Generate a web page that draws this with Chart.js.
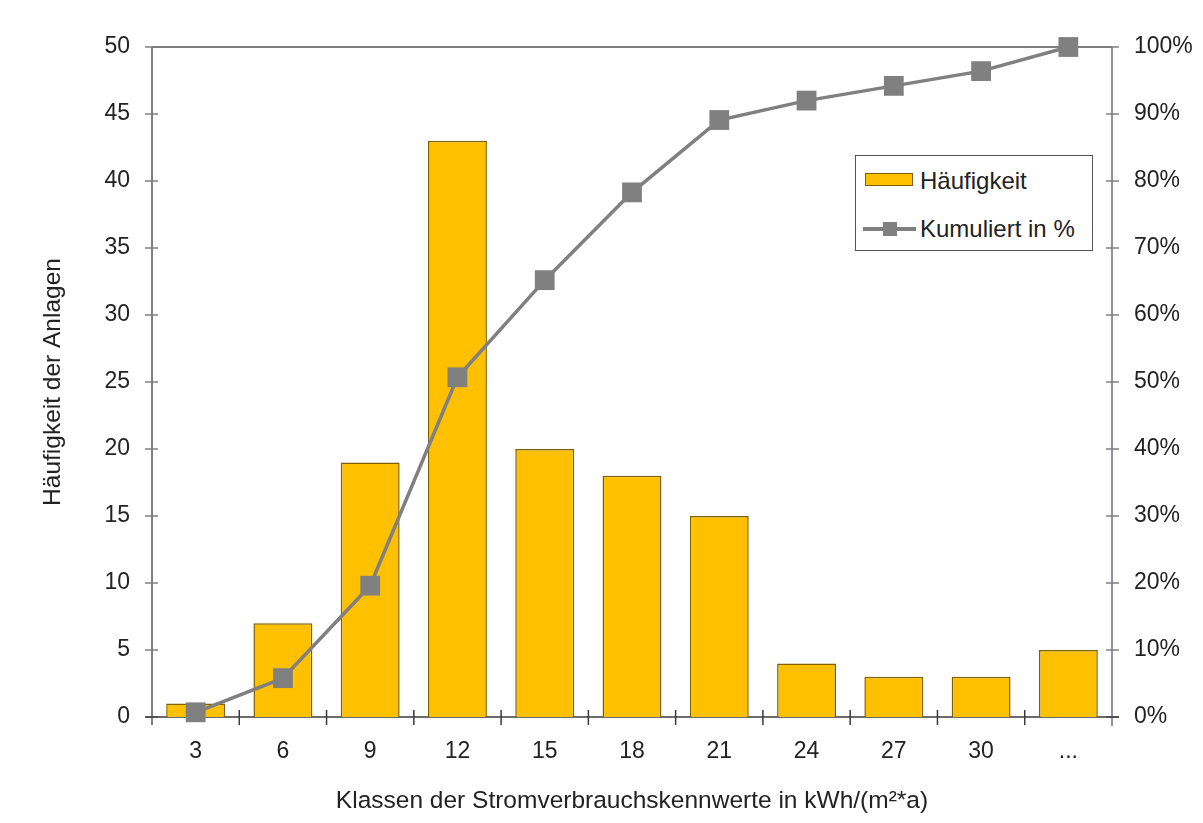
<!DOCTYPE html>
<html>
<head>
<meta charset="utf-8">
<script src="https://cdn.jsdelivr.net/npm/chart.js@4.4.0/dist/chart.umd.min.js"></script>
<style>
  html, body { margin: 0; padding: 0; background: #fff; }
  #wrap { position: relative; width: 1203px; height: 823px; }
  #c { position: absolute; left: 0; top: 0; }
  #legend {
    position: absolute; left: 855px; top: 155px; width: 238px; height: 96px;
    border: 1.5px solid #555; background: #fff; box-sizing: border-box;
    font-family: "Liberation Sans", Arial, sans-serif; font-size: 24px; color: #222;
  }
  .sw { position: absolute; left: 9px; top: 17px; width: 48px; height: 13px; background: #FFC000; border: 1.5px solid #7F6000; box-sizing: border-box; }
  .ln { position: absolute; left: 7px; top: 71px; width: 53px; height: 3.5px; background: #808080; }
  .mk { position: absolute; left: 27px; top: 66px; width: 14px; height: 14px; background: #808080; }
  .t1 { position: absolute; left: 64px; top: 11px; line-height: 28px; }
  .t2 { position: absolute; left: 64px; top: 59px; line-height: 28px; }
</style>
</head>
<body>
<div id="wrap">
  <canvas id="c" width="1203" height="823"></canvas>
  <div id="legend">
    <div class="sw"></div><div class="t1">Häufigkeit</div>
    <div class="ln"></div><div class="mk"></div><div class="t2">Kumuliert in %</div>
  </div>
</div>
<script>
const categories = ['3', '6', '9', '12', '15', '18', '21', '24', '27', '30', '...'];
const frequency = [1, 7, 19, 43, 20, 18, 15, 4, 3, 3, 5];
const cumulativePercent = [0.7, 5.8, 19.6, 50.7, 65.2, 78.3, 89.1, 92.0, 94.2, 96.4, 100];
const leftTicks = [0, 5, 10, 15, 20, 25, 30, 35, 40, 45, 50];
const rightTicks = [0, 10, 20, 30, 40, 50, 60, 70, 80, 90, 100];

const FONT = '"Liberation Sans", Arial, sans-serif';
const TXT = '#222';

const axisPlugin = {
  id: 'axisPlugin',
  beforeDatasetsDraw(chart) {
    const ctx = chart.ctx;
    const a = chart.chartArea;
    const x = chart.scales.x, y = chart.scales.y, y1 = chart.scales.y1;
    ctx.save();
    ctx.strokeStyle = '#7f7f7f';
    ctx.lineWidth = 2;
    ctx.beginPath();
    ctx.moveTo(a.left, a.top); ctx.lineTo(a.right, a.top);
    ctx.stroke();
    ctx.beginPath();
    ctx.moveTo(a.left, a.top); ctx.lineTo(a.left, a.bottom + 8);
    ctx.stroke();
    ctx.strokeStyle = '#77778a';
    ctx.lineWidth = 1.6;
    ctx.beginPath();
    ctx.moveTo(a.right, a.top); ctx.lineTo(a.right, a.bottom + 9);
    ctx.stroke();
    ctx.strokeStyle = '#7f7f7f';
    ctx.lineWidth = 1.5;
    leftTicks.forEach(v => {
      const py = y.getPixelForValue(v);
      ctx.beginPath(); ctx.moveTo(a.left - 7, py); ctx.lineTo(a.left + 6, py); ctx.stroke();
    });
    rightTicks.forEach(v => {
      const py = y1.getPixelForValue(v);
      ctx.beginPath(); ctx.moveTo(a.right - 6, py); ctx.lineTo(a.right + 7, py); ctx.stroke();
    });
    ctx.strokeStyle = '#3a3a3a';
    ctx.lineWidth = 1.6;
    ctx.beginPath();
    ctx.moveTo(a.left - 7, a.bottom); ctx.lineTo(a.right + 7, a.bottom);
    ctx.stroke();
    ctx.lineWidth = 1.5;
    for (let i = 1; i < categories.length; i++) {
      const px = (x.getPixelForValue(i - 1) + x.getPixelForValue(i)) / 2;
      ctx.beginPath(); ctx.moveTo(px, a.bottom - 7); ctx.lineTo(px, a.bottom + 8); ctx.stroke();
    }
    ctx.restore();
  }
};

new Chart(document.getElementById('c'), {
  data: {
    labels: categories,
    datasets: [
      {
        type: 'line',
        label: 'Kumuliert in %',
        data: cumulativePercent,
        yAxisID: 'y1',
        order: 0,
        clip: false,
        borderColor: '#808080',
        backgroundColor: '#808080',
        borderWidth: 3.5,
        pointStyle: 'rect',
        pointRadius: 14,
        pointHoverRadius: 14,
        pointBackgroundColor: '#808080',
        pointBorderColor: '#808080',
        pointBorderWidth: 0,
        tension: 0
      },
      {
        type: 'bar',
        label: 'Häufigkeit',
        data: frequency,
        yAxisID: 'y',
        order: 1,
        backgroundColor: '#FFC000',
        borderColor: '#7F6000',
        borderWidth: 1.5,
        barPercentage: 0.675,
        categoryPercentage: 1.0
      }
    ]
  },
  options: {
    responsive: false,
    animation: false,
    events: [],
    layout: { padding: { top: 47, left: 0, right: 0, bottom: 0 } },
    plugins: { legend: { display: false }, tooltip: { enabled: false } },
    scales: {
      x: {
        type: 'category',
        offset: true,
        grid: { display: false, drawTicks: false },
        border: { display: false },
        ticks: { color: TXT, font: { family: FONT, size: 23 }, padding: 21, maxRotation: 0, autoSkip: false },
        title: { display: true, text: 'Klassen der Stromverbrauchskennwerte in kWh/(m²*a)', color: TXT, font: { family: FONT, size: 24.5 }, padding: { top: 7, bottom: 7 } },
        afterFit(s) { s.height = 106; }
      },
      y: {
        position: 'left',
        min: 0, max: 50,
        afterBuildTicks(s) { s.ticks = leftTicks.map(v => ({ value: v })); },
        grid: { display: false, drawTicks: false },
        border: { display: false },
        ticks: { color: TXT, font: { family: FONT, size: 23 }, padding: 22 },
        title: { display: true, text: 'Häufigkeit der Anlagen', color: TXT, font: { family: FONT, size: 24.5 }, padding: { top: 39, bottom: 39 } },
        afterFit(s) { s.width = 152; }
      },
      y1: {
        position: 'right',
        min: 0, max: 100,
        afterBuildTicks(s) { s.ticks = rightTicks.map(v => ({ value: v })); },
        grid: { display: false, drawTicks: false },
        border: { display: false },
        ticks: { color: TXT, font: { family: FONT, size: 23 }, padding: 22, callback: v => v + '%' },
        afterFit(s) { s.width = 91; }
      }
    }
  },
  plugins: [axisPlugin]
});
</script>
</body>
</html>
